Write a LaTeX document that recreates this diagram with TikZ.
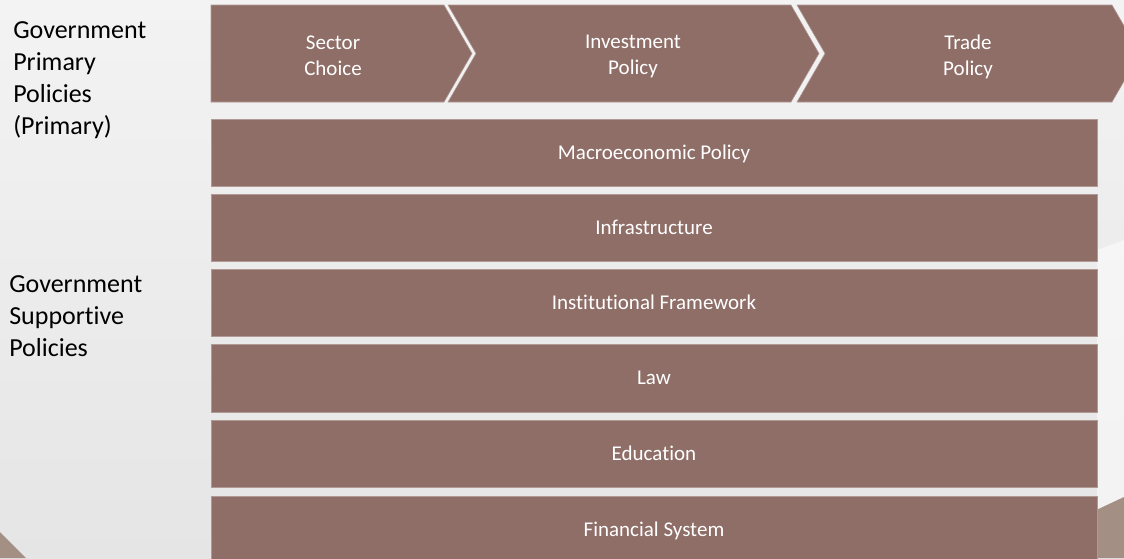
\documentclass[tikz,border=0pt]{standalone}
\usepackage{fontspec}
\setmainfont{Carlito}[Ligatures=NoCommon]
\definecolor{boxc}{RGB}{143,110,104}
\definecolor{bgtop}{RGB}{243,243,243}
\definecolor{bgbot}{RGB}{229,229,229}
\definecolor{floorc}{RGB}{163,143,132}
\begin{document}
\begin{tikzpicture}[x=0.75pt,y=-0.75pt,
  blk/.style={fill=boxc, draw=boxc!70!white, line width=0.4pt},
  lbl/.style={text=white, font=\fontsize{15.75}{19.3}\selectfont, align=center, inner sep=0pt, anchor=base},
  side/.style={text=black, font=\fontsize{19.5}{23.8}\selectfont, align=left, inner sep=0pt, anchor=base west}]
\useasboundingbox (0,0) rectangle (1124,558);
\begin{scope}
\clip (0,0) rectangle (1124,558);
% background
\shade[top color=bgtop, bottom color=bgbot] (0,0) rectangle (1124,558);
\fill[white, opacity=0.5] (1097,250) -- (1124,240) -- (1124,497) -- (1097,510) -- cycle;
\fill[floorc] (1060,527) -- (1124,497) -- (1124,558) -- (1060,558) -- cycle;
\fill[floorc] (0,532) -- (26,558) -- (0,558) -- cycle;
% chevrons
\draw[blk] (211,5) -- (444,5) -- (472,53.5) -- (444,102) -- (211,102) -- cycle;
\draw[blk] (448,5) -- (791,5) -- (819,53.5) -- (791,102) -- (448,102) -- (476,53.5) -- cycle;
\draw[blk] (797,5) -- (1112,5) -- (1140,53.5) -- (1112,102) -- (797,102) -- (825,53.5) -- cycle;
\node[lbl] (sector) at (333,75) {Sector\\Choice};
\node[lbl] (invest) at (633,74) {Investment\\Policy};
\node[lbl] (trade) at (968,75) {Trade\\Policy};
% bars
\draw[blk] (211,119) rectangle (1097,186);
\draw[blk] (211,194) rectangle (1097,261);
\draw[blk] (211,269) rectangle (1097,336);
\draw[blk] (211,344) rectangle (1097,412);
\draw[blk] (211,420) rectangle (1097,487);
\draw[blk] (211,496) rectangle (1097,563);
\node[lbl] (macro) at (654,159) {Macroeconomic Policy};
\node[lbl] (infra) at (654,234) {Infrastructure};
\node[lbl] (inst) at (654,309) {Institutional Framework};
\node[lbl] (law) at (654,384.5) {Law};
\node[lbl] (edu) at (654,460) {Education};
\node[lbl] (fin) at (654,536) {Financial System};
% side labels
\node[side] (prim) at (13,134) {Government\\Primary\\Policies\\(Primary)};
\node[side] (supp) at (9,356) {Government\\Supportive\\Policies};
\end{scope}
\end{tikzpicture}
\end{document}
